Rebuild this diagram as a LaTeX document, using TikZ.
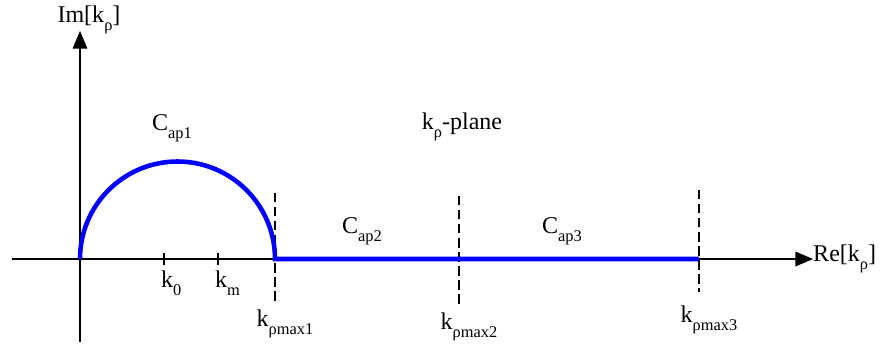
\documentclass[tikz,border=0pt]{standalone}
\usepackage{fontspec}
\setmainfont{Liberation Serif}
\usetikzlibrary{arrows.meta}
\newcommand{\lowsub}[1]{\raisebox{-6.5pt}{\fontsize{14}{15}\selectfont #1}}

\begin{document}
\begin{tikzpicture}[
  x=0.03cm, y=-0.03cm,
  axisline/.style={line width=1.1pt, -{Triangle[length=15pt, width=12.5pt]}},
  pathline/.style={draw=blue, line width=3.9pt},
  limitline/.style={line width=1pt, dash pattern=on 8pt off 4pt},
  tickline/.style={line width=1.1pt},
  lbl/.style={font=\fontsize{20.5}{23}\selectfont, inner sep=0pt},
]
  \useasboundingbox (0,0) rectangle (884,354);

  % Axes
  \coordinate (O) at (80,259);
  \coordinate (xstart) at (12,259);
  \coordinate (xend) at (813,259);
  \coordinate (ystart) at (80,342);
  \coordinate (yend) at (80,31);
  \draw[axisline] (xstart) -- (xend);
  \draw[axisline] (ystart) -- (yend);
  \node[lbl, anchor=west] (re) at (xend) {Re[k\lowsub{ρ}]};
  \node[lbl] (im) at (89,20) {Im[k\lowsub{ρ}]};

  % Limits
  \foreach \n/\xx/\ytop/\ybot/\ly in {1/275/193/305/324, 2/459/196/308/327, 3/699/190/292/320} {
    \coordinate (top\n) at (\xx,\ytop);
    \coordinate (bot\n) at (\xx,\ybot);
    \coordinate (kmax\n) at (\xx,259);
    \draw[limitline] (top\n) -- (bot\n);
    \node[lbl] (lmax\n) at (\xx+10,\ly) {k\lowsub{ρmax\n}};
  }

  % Ticks
  \foreach \n/\xx in {0/164, m/218} {
    \coordinate (tt\n) at (\xx,253);
    \coordinate (tb\n) at (\xx,265);
    \draw[tickline] (tt\n) -- (tb\n);
    \node[lbl, anchor=north west] (k\n) at (\xx-3,271) {k\lowsub{\n}};
  }

  % Integration path
  \draw[pathline] (O) arc[start angle=180, end angle=360, radius=97.5] -- (kmax3);

  % Labels
  \node[lbl] (cap1) at (172,128) {C\lowsub{ap1}};
  \node[lbl] (cap2) at (362,231) {C\lowsub{ap2}};
  \node[lbl] (cap3) at (562,231) {C\lowsub{ap3}};
  \node[lbl] (plane) at (462,127) {k\lowsub{ρ}-plane};
\end{tikzpicture}
\end{document}
